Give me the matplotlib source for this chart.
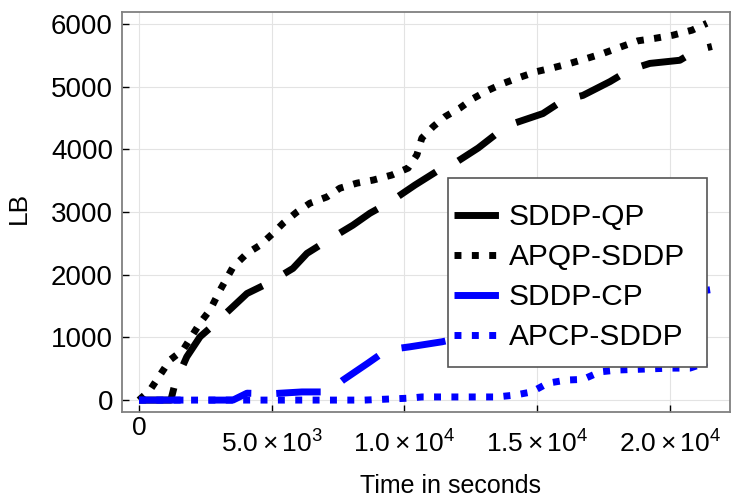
import matplotlib
matplotlib.use("Agg")
import matplotlib.pyplot as plt
import matplotlib.transforms as mtransforms
from matplotlib.patches import Rectangle

plt.rcParams['font.family'] = ['Liberation Sans', 'DejaVu Sans']
plt.rcParams['mathtext.fontset'] = 'custom'
plt.rcParams['mathtext.rm'] = 'Liberation Sans'
plt.rcParams['mathtext.it'] = 'Liberation Sans'

# datos
t_qp = [0, 1200, 1360, 1800, 2300, 2680, 3540, 4070, 4940, 5800, 6330, 7120, 8060, 8700,
        9460, 10400, 11340, 11900, 12780, 13480, 14100, 15220, 15980, 16730, 17750, 18500,
        19250, 20380, 21010, 21590]
lb_qp = [0, 0, 270, 690, 1010, 1150, 1490, 1700, 1880, 2100, 2340, 2550, 2790, 2980,
         3160, 3430, 3680, 3780, 4020, 4250, 4410, 4570, 4780, 4860, 5080, 5270,
         5370, 5420, 5580, 5640]

t_apqp = [0, 415, 1170, 1660, 2300, 2680, 3050, 3540, 4070, 4560, 5050, 5430, 5950, 6440,
          7080, 7570, 8210, 8830, 9530, 10140, 10470, 10660, 11080, 11530, 12100, 12590,
          13150, 13720, 14360, 14990, 15600, 16240, 16880, 17490, 18200, 18800, 19440,
          20120, 20840, 21400]
lb_apqp = [0, 160, 640, 800, 1230, 1440, 1750, 2120, 2340, 2470, 2660, 2820, 3000, 3140,
           3240, 3380, 3460, 3510, 3590, 3700, 3910, 4180, 4360, 4520, 4660, 4810,
           4940, 5050, 5150, 5240, 5300, 5370, 5450, 5530, 5640, 5730, 5770,
           5820, 5900, 6010]

t_cp = [0, 3540, 4070, 4940, 6140, 7120, 7690, 8630, 9340, 10210, 11420, 13000, 15000,
        17000, 19000, 21520]
lb_cp = [0, 0, 110, 100, 130, 130, 320, 590, 800, 850, 930, 1080, 1280, 1450, 1600, 1760]

t_apcp = [0, 8500, 10140, 10660, 11460, 12850, 13480, 14170, 14800, 15410, 16120, 16730,
          17370, 18050, 18760, 19370, 20090, 20760, 21400]
lb_apcp = [0, 0, 30, 50, 50, 50, 50, 80, 130, 270, 320, 330, 450, 480, 490, 500, 510,
           510, 600]

xticks = [0, 5000, 10000, 15000, 20000]
xlabels = ['0', r'$5.0\times10^{3}$', r'$1.0\times10^{4}$', r'$1.5\times10^{4}$',
           r'$2.0\times10^{4}$']
yticks = [0, 1000, 2000, 3000, 4000, 5000, 6000]

fig = plt.figure(figsize=(7.5, 5), dpi=100)
ax = fig.add_axes([0.1627, 0.176, 0.8106, 0.8])

lw = 5
dash = (6.4, 3.6)
dot = (1, 1.5)
ax.plot(t_qp, lb_qp, color='black', lw=lw, dashes=dash, dash_capstyle='butt', label='SDDP-QP')
ax.plot(t_apqp, lb_apqp, color='black', lw=lw, dashes=dot, dash_capstyle='butt', label='APQP-SDDP')
ax.plot(t_cp, lb_cp, color='blue', lw=lw, dashes=dash, dash_capstyle='butt', label='SDDP-CP')
ax.plot(t_apcp, lb_apcp, color='blue', lw=lw, dashes=dot, dash_capstyle='butt', label='APCP-SDDP')

ax.set_xlim(-640, 22270)
ax.set_ylim(-190, 6190)
ax.set_xticks(xticks)
ax.set_xticklabels(xlabels)
ax.set_yticks(yticks)
ax.tick_params(axis='x', direction='in', length=5, width=1, labelsize=19, pad=13)
ax.tick_params(axis='y', direction='in', length=5, width=1, labelsize=20, pad=6.5)
ax.grid(color='#e3e3e3', lw=0.8)
ax.set_axisbelow(True)
for s in ax.spines.values():
    s.set_color('#808080')
    s.set_linewidth(1.3)

# el 0 va mas arriba que los demas (no tiene exponente)
cero = ax.get_xticklabels()[0]
cero.set_transform(cero.get_transform() + mtransforms.ScaledTranslation(0, 10 / 72, fig.dpi_scale_trans))

ax.set_xlabel('Time in seconds', fontsize=18)
ax.set_ylabel('LB', fontsize=19)
ax.xaxis.set_label_coords(0.54, -0.155)
ax.yaxis.set_label_coords(-0.15, 0.51)

# caja de leyenda (fondo blanco tapa las lineas)
ax.add_patch(Rectangle((0.536, 0.1125), 0.426, 0.4725, transform=ax.transAxes,
                       facecolor='white', edgecolor='#555555', lw=1.2, zorder=5))
leg = ax.legend(loc='upper left', bbox_to_anchor=(0.546, 0.522), frameon=False,
                fontsize=21.5, handlelength=1.5, handletextpad=0.33, labelspacing=0.4,
                borderpad=0, borderaxespad=0)
leg.set_zorder(6)

plt.savefig('out.png', dpi=100)
plt.close()
